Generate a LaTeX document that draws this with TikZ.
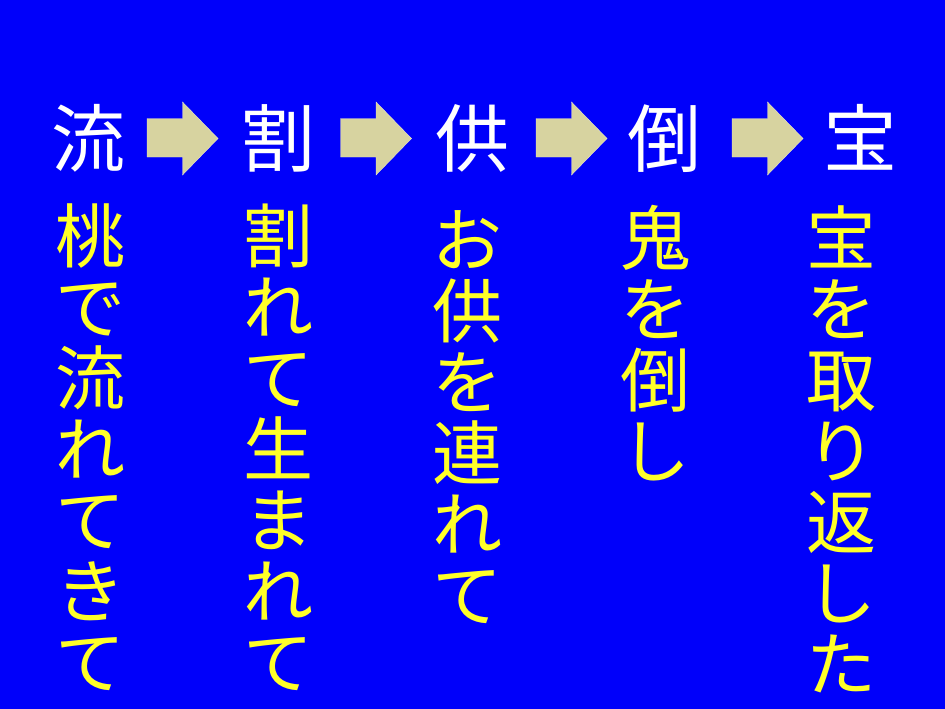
\documentclass[tikz,border=0pt]{standalone}
\usepackage{fontspec}
\newfontfamily\jpfont{Noto Sans CJK JP}
\definecolor{slideblue}{RGB}{0,0,250}
\definecolor{arrowfill}{RGB}{215,211,160}
\definecolor{textyellow}{RGB}{255,255,40}

\def\pitch{71}

\begin{document}
\begin{tikzpicture}[x=1pt, y=-1pt,
    head/.style={anchor=base, inner sep=0pt, text=white, font=\jpfont\fontsize{74}{74}\selectfont},
    tate/.style={anchor=base, inner sep=0pt, text=textyellow, font=\jpfont\fontsize{70}{70}\selectfont},
    blockarrow/.style={fill=arrowfill, draw=arrowfill!60!white, line width=0.4pt}]
      \fill[slideblue] (0,0) rectangle (945,709);
      \useasboundingbox (0,0) rectangle (945,709);
      % headers
      \node[head] (h1) at (88, 166) {流};
      \node[head] (h2) at (278, 166) {割};
      \node[head] (h3) at (472, 166) {供};
      \node[head] (h4) at (664, 166) {倒};
      \node[head] (h5) at (860, 166) {宝};
      % arrows between headers
      \foreach \x in {182.5, 376, 571.5, 767.5}
        \draw[blockarrow] (\x-35.5,118.5) -- (\x,118.5) -- (\x,102) -- (\x+35.5,138.5)
          -- (\x,175) -- (\x,157) -- (\x-35.5,157) -- cycle;
      % vertical lines of text
      \foreach \c [count=\i] in {桃,で,流,れ,て,き,て}
        \node[tate] (c1-\i) at (90, 262+\pitch*\i-\pitch) {\c};
      \foreach \c [count=\i] in {割,れ,て,生,ま,れ,て}
        \node[tate] (c2-\i) at (278, 262+\pitch*\i-\pitch) {\c};
      \foreach \c [count=\i] in {お,供,を,連,れ,て}
        \node[tate] (c3-\i) at (467, 266+\pitch*\i-\pitch) {\c};
      \foreach \c [count=\i] in {鬼,を,倒,し}
        \node[tate] (c4-\i) at (655, 264+\pitch*\i-\pitch) {\c};
      \foreach \c [count=\i] in {宝,を,取,り,返,し,た}
        \node[tate] (c5-\i) at (841, 264+\pitch*\i-\pitch) {\c};
    \end{tikzpicture}
\end{document}
